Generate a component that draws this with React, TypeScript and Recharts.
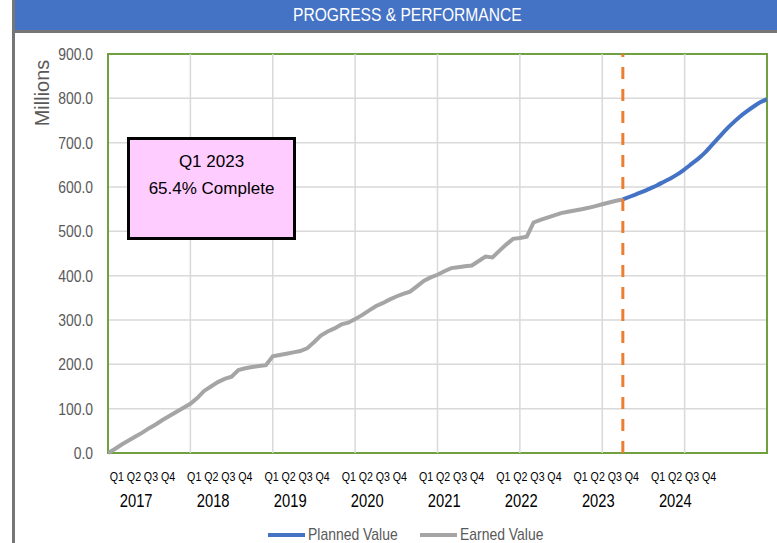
import React from 'react'
import { LineChart, Line, XAxis, YAxis, CartesianGrid, ReferenceLine, ReferenceArea } from 'recharts'

// no condensed face is installed, so Liberation Sans is squeezed horizontally instead
const SANS = "'Liberation Sans', Arial, sans-serif"
const SQUEEZE = 0.82

const YEARS = ['2017', '2018', '2019', '2020', '2021', '2022', '2023', '2024']
const QUARTERS = ['Q1', 'Q2', 'Q3', 'Q4']
const Y_TICKS = [0, 100, 200, 300, 400, 500, 600, 700, 800, 900]

// months since Jan 2017; the status date sits at month 75
const STATUS_MONTH = 75
const LAST_MONTH = 96

// earned value, millions, one value per month 0..75
const EARNED_VALUES = [
  0, 9, 19, 28, 37, 46, 56, 65, 75, 84, 93, 102,
  111, 124, 140, 150, 160, 167, 172, 187, 191, 194, 196, 198,
  218, 221, 224, 227, 230, 236, 250, 265, 274, 281, 290, 294,
  302, 311, 321, 331, 338, 346, 353, 359, 364, 376, 388, 396,
  402, 410, 417, 419, 421, 423, 433, 443, 441, 456, 470, 483,
  485, 488, 520, 526, 531, 536, 541, 544, 547, 550, 553, 557,
  561, 565, 569, 572,
]

// planned value, millions, one value per month 75..96
const PLANNED_VALUES = [
  572, 578, 584, 590, 597, 604, 612, 620, 629, 640, 652, 664,
  678, 695, 712, 729, 744, 758, 770, 781, 791, 798,
]

const rows = Array.from({ length: LAST_MONTH + 1 }, (_, m) => ({
  m,
  earned: m < EARNED_VALUES.length ? EARNED_VALUES[m] : null,
  planned: m >= STATUS_MONTH ? PLANNED_VALUES[m - STATUS_MONTH] : null,
}))

const YEAR_LINES = YEARS.slice(1).map((_, i) => (i + 1) * 12)
// label placement along the axis (Excel squeezes the multi-level labels a bit)
const QUARTER_TICKS = YEARS.flatMap((_, y) => QUARTERS.map((_, q) => 1.3 + y * 11.26 + q * 2.48))
const YEAR_TICKS = YEARS.map((_, y) => 4.1 + y * 11.22)

// eslint-disable-next-line @typescript-eslint/no-explicit-any
const NarrowText = ({ x, y, size, fill, anchor, children }: any) => (
  <text transform={`translate(${x},${y}) scale(${SQUEEZE},1)`} textAnchor={anchor} dominantBaseline="central"
    fill={fill} fontSize={size} fontFamily={SANS}>
    {children}
  </text>
)

// eslint-disable-next-line @typescript-eslint/no-explicit-any
const QuarterTick = (props: any) => (
  <NarrowText x={props.x} y={props.y + 16} size={13} fill="#000" anchor="middle">
    {QUARTERS[props.index % 4]}
  </NarrowText>
)

// eslint-disable-next-line @typescript-eslint/no-explicit-any
const YearTick = (props: any) => (
  <NarrowText x={props.x} y={props.y + 3} size={18} fill="#000" anchor="middle">
    {YEARS[props.index]}
  </NarrowText>
)

// eslint-disable-next-line @typescript-eslint/no-explicit-any
const ValueTick = (props: any) => (
  <NarrowText x={props.x} y={props.y} size={17} fill="#595959" anchor="end">
    {Number(props.payload.value).toFixed(1)}
  </NarrowText>
)

// eslint-disable-next-line @typescript-eslint/no-explicit-any
const MillionsLabel = (props: any) => {
  const vb = props.viewBox || { x: 48, y: 54 }
  const cx = vb.x - 6
  const cy = vb.y + 39
  return (
    <text x={cx} y={cy} transform={`rotate(-90 ${cx} ${cy})`} textAnchor="middle" dominantBaseline="central"
      fill="#595959" fontSize={20} fontFamily={SANS}>
      Millions
    </text>
  )
}

const LEGEND = [
  { name: 'Planned Value', color: '#4472c4', left: 268 },
  { name: 'Earned Value', color: '#a5a5a5', left: 420 },
]

const squeezed: React.CSSProperties = {
  display: 'inline-block', transform: `scaleX(${SQUEEZE})`, whiteSpace: 'nowrap',
}

export default function App() {
  return (
    <div style={{ position: 'relative', width: 777, height: 543, overflow: 'hidden', background: '#fff' }}>
      <style>{'body{margin:0}'}</style>
      <div style={{ position: 'absolute', left: 12, top: 0, width: 3, height: 543, background: '#767676' }} />
      <div style={{
        position: 'absolute', left: 15, top: 0, width: 785, height: 30, background: '#4472c4', color: '#fff',
        fontFamily: SANS, fontSize: 19, lineHeight: '30px', textAlign: 'center',
      }}>
        <span style={squeezed}>PROGRESS &amp; PERFORMANCE</span>
      </div>
      <div style={{ position: 'absolute', left: 12, top: 30, width: 800, height: 3, background: '#767676' }} />

      <div style={{ position: 'absolute', left: 0, top: 0 }}>
        <LineChart width={777} height={543} data={rows} margin={{ top: 54, right: 10, left: 48, bottom: 30 }}>
          <CartesianGrid vertical={false} stroke="#d9d9d9" strokeWidth={1.5} />
          {YEAR_LINES.map((m) => (
            <ReferenceLine key={m} x={m} stroke="#d9d9d9" strokeWidth={1.5} />
          ))}
          <XAxis dataKey="m" type="number" domain={[0, LAST_MONTH]} ticks={QUARTER_TICKS} interval={0}
            tick={<QuarterTick />} tickLine={false} axisLine={false} height={36} allowDataOverflow />
          <XAxis xAxisId="year" dataKey="m" type="number" domain={[0, LAST_MONTH]} ticks={YEAR_TICKS} interval={0}
            tick={<YearTick />} tickLine={false} axisLine={false} height={24} allowDataOverflow />
          <YAxis domain={[0, 900]} ticks={Y_TICKS} interval={0} width={60} tickLine={false} axisLine={false}
            tickMargin={9} tick={<ValueTick />} label={<MillionsLabel />} />
          <ReferenceArea x1={0} x2={LAST_MONTH} y1={0} y2={900} fill="none" stroke="#70a040" strokeWidth={2} />
          <Line dataKey="planned" type="monotone" stroke="#4472c4" strokeWidth={4} dot={false} isAnimationActive={false} />
          <Line dataKey="earned" type="linear" stroke="#a5a5a5" strokeWidth={4} dot={false} isAnimationActive={false} />
          <ReferenceLine x={STATUS_MONTH} stroke="#ed7d31" strokeWidth={3} strokeDasharray="12 10" />
        </LineChart>
      </div>

      <div style={{
        position: 'absolute', left: 127, top: 137, width: 169, height: 103, boxSizing: 'border-box',
        border: '3px solid #000', background: '#ffccff', textAlign: 'center', paddingTop: 8,
        fontFamily: SANS, fontSize: 17, lineHeight: '27px', color: '#000',
      }}>
        <div>Q1 2023</div>
        <div>65.4% Complete</div>
      </div>

      {LEGEND.map((d) => (
        <div key={d.name} style={{
          position: 'absolute', left: d.left, top: 525, height: 20, display: 'flex', alignItems: 'center',
          fontFamily: SANS, fontSize: 17, color: '#595959',
        }}>
          <span style={{ display: 'inline-block', width: 37, height: 4, background: d.color }} />
          <span style={{ ...squeezed, lineHeight: '20px', marginLeft: 3, transformOrigin: 'left center' }}>{d.name}</span>
        </div>
      ))}
    </div>
  )
}
